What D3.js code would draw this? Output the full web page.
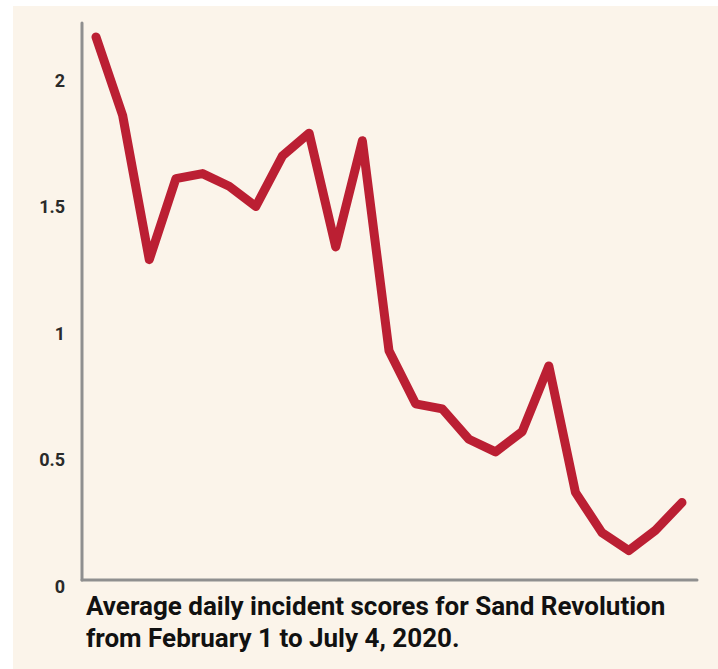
<!DOCTYPE html>
<html lang="en">
<head>
  <meta charset="UTF-8" />
  <title>Sand Revolution incident scores</title>
  <script src="https://d3js.org/d3.v7.min.js"></script>
  <style>
    body {
      margin: 0;
      padding: 0;
      background: #ffffff;
      font-family: Roboto, "Noto Sans", sans-serif;
    }

    svg {
      display: block;
    }

    .y-label {
      fill: #2a2a2a;
      font-size: 18px;
      font-weight: bold;
    }

    .axis-line {
      stroke: #8f8f8f;
      stroke-width: 3px;
      stroke-linecap: round;
    }

    .score-line {
      fill: none;
      stroke: #bb1f33;
      stroke-width: 9px;
      stroke-linejoin: round;
      stroke-linecap: round;
    }

    .caption {
      fill: #111;
      font-size: 26px;
      font-weight: bold;
    }
  </style>
</head>
<body>
  <svg id="chart" width="718" height="669"></svg>

  <script>
    // weekly points, Feb 1 -> Jul 4 2020
    const weekStarts = [
      "2020-02-01", "2020-02-08", "2020-02-15", "2020-02-22", "2020-02-29",
      "2020-03-07", "2020-03-14", "2020-03-21", "2020-03-28", "2020-04-04",
      "2020-04-11", "2020-04-18", "2020-04-25", "2020-05-02", "2020-05-09",
      "2020-05-16", "2020-05-23", "2020-05-30", "2020-06-06", "2020-06-13",
      "2020-06-20", "2020-06-27", "2020-07-04"
    ];
    const scores = [
      2.17, 1.86, 1.29, 1.61, 1.63, 1.58, 1.50, 1.70, 1.79, 1.34, 1.76, 0.93,
      0.72, 0.70, 0.58, 0.53, 0.61, 0.87, 0.37, 0.21, 0.14, 0.22, 0.33
    ];
    const yTicks = [0, 0.5, 1, 1.5, 2];
    const yTickLabels = ["0", "0.5", "1", "1.5", "2"];
    const captionLines = [
      "Average daily incident scores for Sand Revolution",
      "from February 1 to July 4, 2020."
    ];

    const parseDate = d3.timeParse("%Y-%m-%d");
    const data = weekStarts.map((d, i) => ({ date: parseDate(d), value: scores[i] }));

    const svg = d3.select("#chart");

    // beige panel
    svg.append("rect")
      .attr("x", 13)
      .attr("y", 6)
      .attr("width", 718 - 13)
      .attr("height", 669 - 6)
      .attr("fill", "#fbf4ea");

    const axisX = 82;
    const axisBottom = 580;

    const x = d3.scaleTime()
      .domain(d3.extent(data, d => d.date))
      .range([96, 682]);

    const y = d3.scaleLinear()
      .domain([0, 2])
      .range([586, 80]);

    // axes lines
    svg.append("line")
      .attr("class", "axis-line")
      .attr("x1", axisX).attr("x2", axisX)
      .attr("y1", 23).attr("y2", axisBottom);

    svg.append("line")
      .attr("class", "axis-line")
      .attr("x1", axisX).attr("x2", 697)
      .attr("y1", axisBottom).attr("y2", axisBottom);

    // y labels
    svg.selectAll(".y-label")
      .data(yTicks)
      .join("text")
      .attr("class", "y-label")
      .attr("x", 65)
      .attr("y", d => y(d))
      .attr("text-anchor", "end")
      .attr("dominant-baseline", "central")
      .text((d, i) => yTickLabels[i]);

    // the line
    const line = d3.line()
      .x(d => x(d.date))
      .y(d => y(d.value));

    svg.append("path")
      .datum(data)
      .attr("class", "score-line")
      .attr("d", line);

    // caption
    svg.selectAll(".caption")
      .data(captionLines)
      .join("text")
      .attr("class", "caption")
      .attr("x", 86)
      .attr("y", (d, i) => 615 + i * 32)
      .text(d => d);
  </script>
</body>
</html>
